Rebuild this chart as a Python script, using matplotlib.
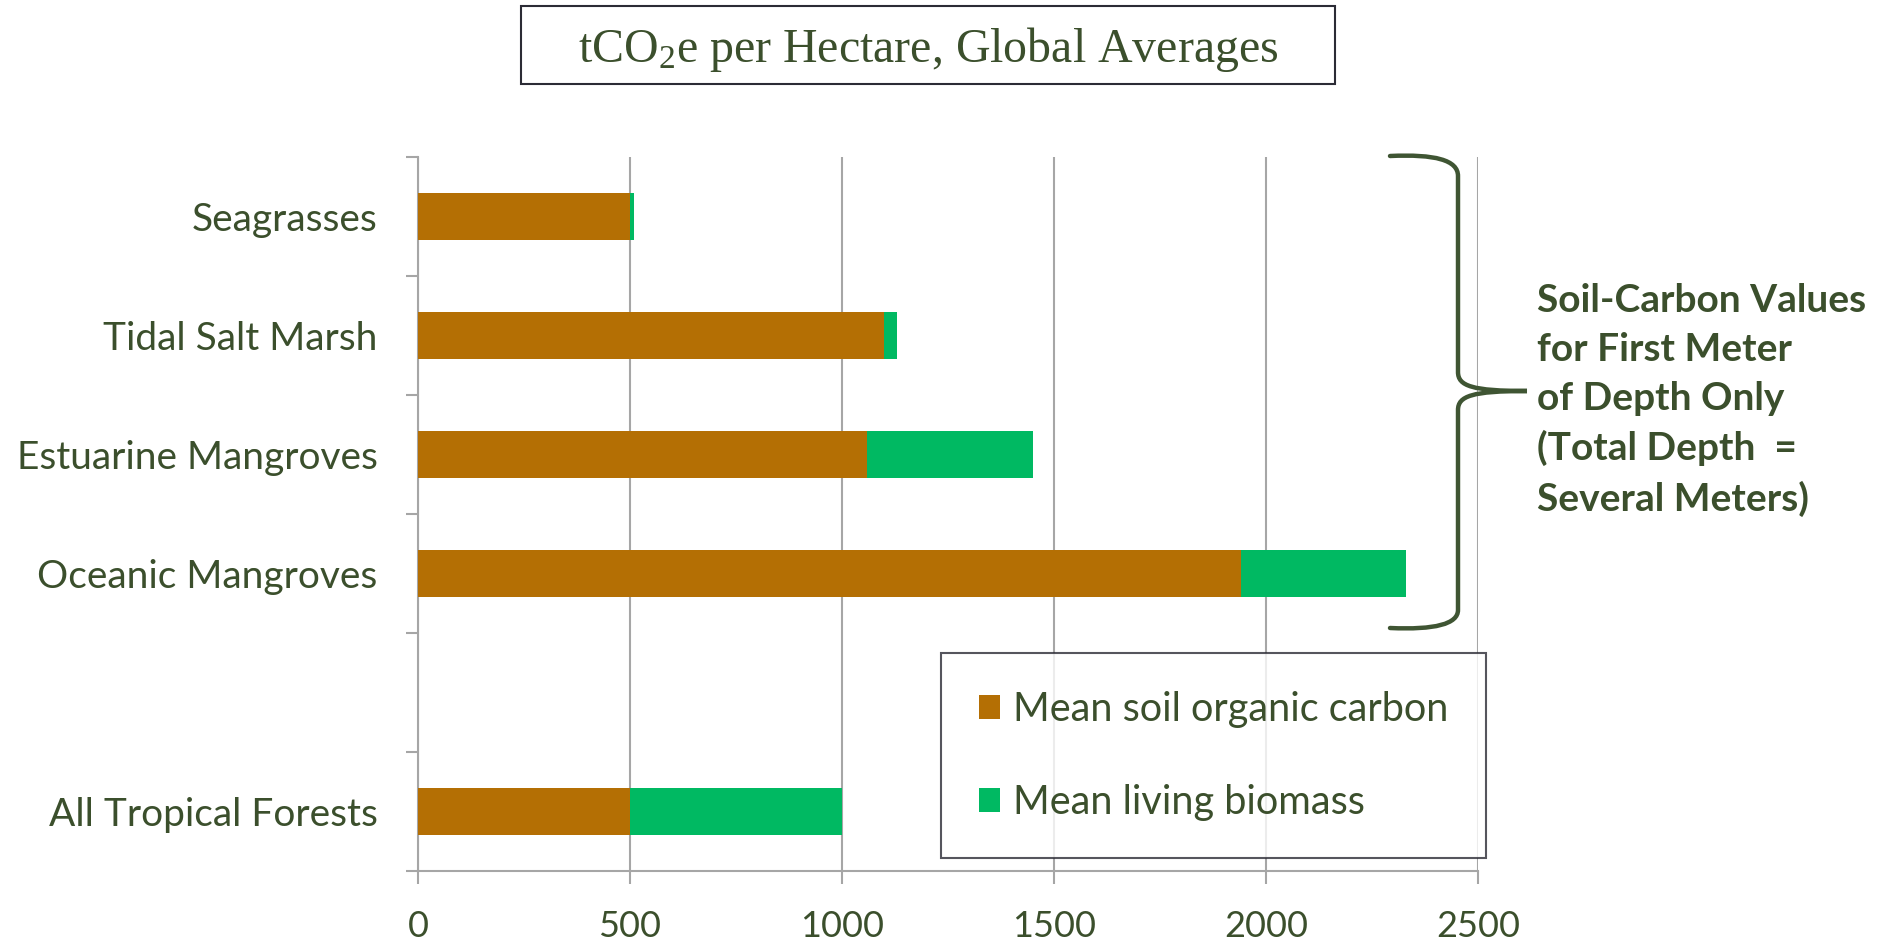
import numpy as np
import matplotlib
matplotlib.use("Agg")
from matplotlib import pyplot as plt
from matplotlib.patches import Patch, Rectangle, PathPatch
from matplotlib.path import Path

# data
categories = ["Seagrasses", "Tidal Salt Marsh", "Estuarine Mangroves",
              "Oceanic Mangroves", "", "All Tropical Forests"]
soil_carbon = [500, 1100, 1060, 1940, 0, 500]
living_biomass = [10, 30, 390, 390, 0, 500]
x_ticks = [0, 500, 1000, 1500, 2000, 2500]

txt_col = "#3b4f2c"
brown = "#b46f04"
green = "#00b962"
grid_col = "#a6a6a6"

plt.rcParams["mathtext.fontset"] = "custom"
plt.rcParams["mathtext.rm"] = "Liberation Serif"
plt.rcParams["mathtext.it"] = "Liberation Serif:italic"

W, H = 1878, 944
fig = plt.figure(figsize=(W / 100, H / 100), dpi=100)
ax = fig.add_axes([418 / W, 1 - 871 / H, (1478 - 418) / W, (871 - 157) / H])

ypos = np.arange(len(categories))
ax.barh(ypos, soil_carbon, height=0.4, color=brown, linewidth=0, zorder=3,
        label="Mean soil organic carbon")
ax.barh(ypos, living_biomass, left=soil_carbon, height=0.4, color=green,
        linewidth=0, zorder=3, label="Mean living biomass")

ax.set_xlim(0, 2500)
ax.set_ylim(len(categories) - 0.5, -0.5)
ax.set_xticks(x_ticks)
ax.set_xticklabels([str(v) for v in x_ticks])
ax.set_yticks(ypos)
ax.set_yticklabels(categories)
ax.set_yticks(np.arange(len(categories) + 1) - 0.5, minor=True)

for s in ["top", "right"]:
    ax.spines[s].set_visible(False)
for s in ["left", "bottom"]:
    ax.spines[s].set_color(grid_col)
    ax.spines[s].set_linewidth(1.5)
ax.xaxis.grid(True, color=grid_col, linewidth=1.5, zorder=0)
ax.set_axisbelow(True)

ax.tick_params(axis="y", which="major", length=0, pad=29,
               labelsize=28, labelcolor=txt_col)
ax.tick_params(axis="y", which="minor", length=9, width=1.5, color=grid_col)
ax.tick_params(axis="x", length=9, width=1.5, color=grid_col, pad=19,
               labelsize=26, labelcolor=txt_col)
for lab in ax.get_yticklabels() + ax.get_xticklabels():
    lab.set_family("Lato")

# legend
handles = [Patch(facecolor=brown, label="Mean soil organic carbon"),
           Patch(facecolor=green, label="Mean living biomass")]
leg = ax.legend(handles=handles, loc="upper left",
                bbox_to_anchor=(941 / W, 1 - 653 / H), bbox_transform=fig.transFigure,
                borderaxespad=0, frameon=True, fancybox=False,
                prop={"family": "Lato", "size": 28.5},
                handlelength=0.55, handleheight=0.55, handletextpad=0.33,
                labelspacing=1.42, borderpad=0.95)
leg.get_frame().set_edgecolor("#2b2b35")
leg.get_frame().set_linewidth(1.5)
for t in leg.get_texts():
    t.set_color(txt_col)

# title box
fig.patches.append(Rectangle((521 / W, 1 - 84 / H), (1335 - 521) / W, 78 / H,
                             transform=fig.transFigure, fill=False,
                             edgecolor="#2b2b35", linewidth=1.5))
fig.text(928 / W, 1 - 50 / H, r"tCO$_\mathrm{2}$e per Hectare, Global Averages",
         ha="center", va="center", family="Liberation Serif", size=34.5,
         color=txt_col)

# brace
def px(x, y):
    return (x / W, 1 - y / H)

verts = [px(1390, 156), px(1435, 154), px(1458, 160), px(1458, 176),
         px(1458, 372),
         px(1458, 386), px(1472, 391), px(1527, 391),
         px(1472, 391), px(1458, 396), px(1458, 410),
         px(1458, 610),
         px(1458, 624), px(1435, 630), px(1390, 628)]
codes = [Path.MOVETO, Path.CURVE4, Path.CURVE4, Path.CURVE4,
         Path.LINETO,
         Path.CURVE4, Path.CURVE4, Path.CURVE4,
         Path.CURVE4, Path.CURVE4, Path.CURVE4,
         Path.LINETO,
         Path.CURVE4, Path.CURVE4, Path.CURVE4]
fig.patches.append(PathPatch(Path(verts, codes), transform=fig.transFigure,
                             fill=False, edgecolor="#3f5533", linewidth=3.2,
                             capstyle="round"))

fig.text(1537 / W, 1 - 400 / H,
         "Soil-Carbon Values\nfor First Meter\nof Depth Only\n(Total Depth  =\nSeveral Meters)",
         ha="left", va="center", family="Lato", weight="bold", size=28,
         color=txt_col, linespacing=1.48)

plt.savefig("out.png", dpi=100)
